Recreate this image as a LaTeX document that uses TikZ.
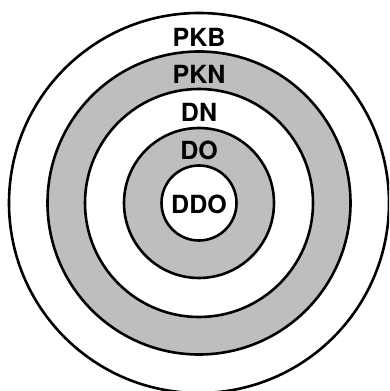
\documentclass[tikz,border=0pt]{standalone}
\usepackage{fontspec}
\setmainfont{TeX Gyre Heros}
\usepackage{tikz}
\usepackage{xcolor}

\definecolor{ringgray}{HTML}{BCBEC0}

\begin{document}
\begin{tikzpicture}[x=1pt, y=1pt, line width=2.6pt]

        \useasboundingbox (0,0) rectangle (389,391);
        \clip (0,0) rectangle (389,391);

        \coordinate (centre) at (199,188);

        \draw[fill=white] (centre) circle (190);
        \draw[fill=ringgray] (centre) circle (151.5);
        \draw[fill=white] (centre) circle (114);
        \draw[fill=ringgray] (centre) circle (75);
        \draw[fill=white] (centre) circle (37.5);

        \node[font=\fontsize{25}{28}\selectfont\bfseries] at (199,354) (pkb) {PKB};
        \node[font=\fontsize{25}{28}\selectfont\bfseries] at (199,317) (pkn) {PKN};
        \node[font=\fontsize{25}{28}\selectfont\bfseries] at (199,279) (dn) {DN};
        \node[font=\fontsize{25}{28}\selectfont\bfseries] at (199,241) (do) {DO};
        \node[font=\fontsize{25}{28}\selectfont\bfseries] at (199,187) (ddo) {DDO};

    \end{tikzpicture}
\end{document}
